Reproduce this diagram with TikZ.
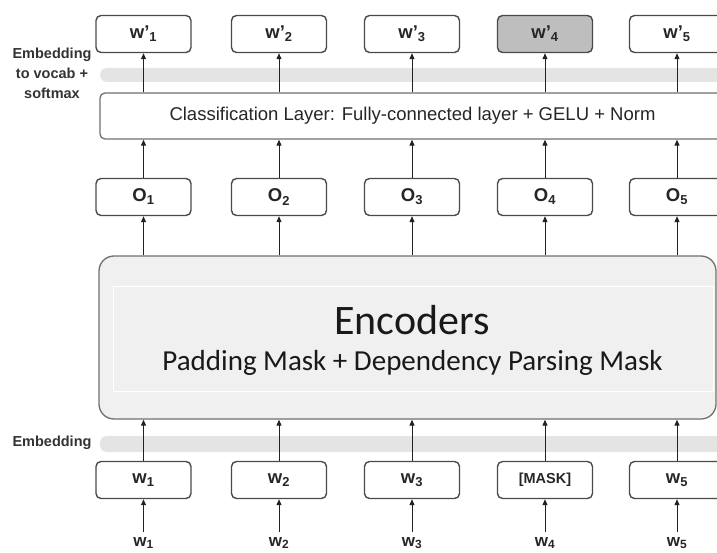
\documentclass[tikz,border=0pt]{standalone}
\usepackage{fontspec}
\setmainfont{Liberation Sans}
\newfontfamily\encfont{Carlito}
\usetikzlibrary{arrows.meta}

\definecolor{boxline}{HTML}{4A4A4A}
\definecolor{arrowc}{HTML}{222222}
\definecolor{bandc}{HTML}{E4E4E4}
\definecolor{encfill}{HTML}{F0F0F0}
\definecolor{encline}{HTML}{707070}
\definecolor{maskfill}{HTML}{BEBEBE}
\definecolor{labelc}{HTML}{333333}

\begin{document}
\begin{tikzpicture}[x=1pt,y=-1pt,
  tok/.style={draw=boxline, line width=1.4pt, rounded corners=5pt, fill=white,
    minimum width=95pt, minimum height=37pt, inner sep=0pt,
    font=\bfseries\fontsize{18.5}{20}\selectfont, text=black!85},
  up/.style={-{Triangle[length=6pt,width=5pt]}, line width=1pt, draw=arrowc},
  band/.style={fill=bandc, draw=none, rounded corners=7pt},
  sidelabel/.style={align=center, text=labelc, inner sep=0pt,
    font=\bfseries\fontsize{14.5}{20}\selectfont},
  inlabel/.style={anchor=base, inner sep=0pt, text=black!85,
    font=\bfseries\fontsize{17}{19}\selectfont}
]
\useasboundingbox (0,0) rectangle (717,553);
\clip (0,0) rectangle (717,553);

% grey embedding bands
\fill[band] (100,68) rectangle (740,82);
\fill[band] (100,436) rectangle (740,452);

% side labels
\node[sidelabel] (lblvocab) at (52,73) {Embedding\\to vocab +\\softmax};
\node[sidelabel] (lblemb) at (52,443) {Embedding};

% classification layer
\node[draw=encline, line width=1.3pt, rounded corners=5pt, fill=white,
      minimum width=625pt, minimum height=46pt, inner sep=0pt,
      font=\fontsize{18.5}{20}\selectfont, text=black!85]
  (cls) at (412.5,116) {Classification Layer: Fully-connected layer + GELU + Norm};

% encoder block
\node[draw=encline, line width=1.3pt, rounded corners=15pt, fill=encfill,
      minimum width=617pt, minimum height=163pt, inner sep=0pt]
  (enc) at (407.5,337.5) {};
\draw[white, line width=1pt] (113,286) rectangle (713,391);
\node[font=\encfont\fontsize{42}{44}\selectfont, anchor=base, inner sep=0pt,
      text=black!90] (enctitle) at (412,334) {Encoders};
\node[font=\encfont\fontsize{29}{31}\selectfont, anchor=base, inner sep=0pt,
      text=black!90] (encsub) at (412.5,370) {Padding Mask + Dependency Parsing Mask};

% token columns: index / x / input-token text / output-box fill
\foreach \i/\x/\lab/\fc in {1/143.5/w\textsubscript{1}/white,
                            2/279/w\textsubscript{2}/white,
                            3/412/w\textsubscript{3}/white,
                            4/545/{\fontsize{14.5}{16}\selectfont[MASK]}/maskfill,
                            5/677/w\textsubscript{5}/white} {
  \node[tok, fill=\fc] (wp\i) at (\x,34) {w’\textsubscript{\i}};
  \node[tok] (o\i) at (\x,197) {O\textsubscript{\i}};
  \node[tok] (w\i) at (\x,480) {\lab};
  \node[inlabel] (in\i) at (\x,546) {w\textsubscript{\i}};
  \coordinate (src\i) at (\x,532);

  \draw[up] (src\i) -- (w\i.south);
  \draw[up] (w\i.north) -- (w\i.north |- enc.south);
  \draw[up] (o\i.south |- enc.north) -- (o\i.south);
  \draw[up] (o\i.north) -- (o\i.north |- cls.south);
  \draw[up] (wp\i.south |- cls.north) -- (wp\i.south);
}
\end{tikzpicture}
\end{document}
